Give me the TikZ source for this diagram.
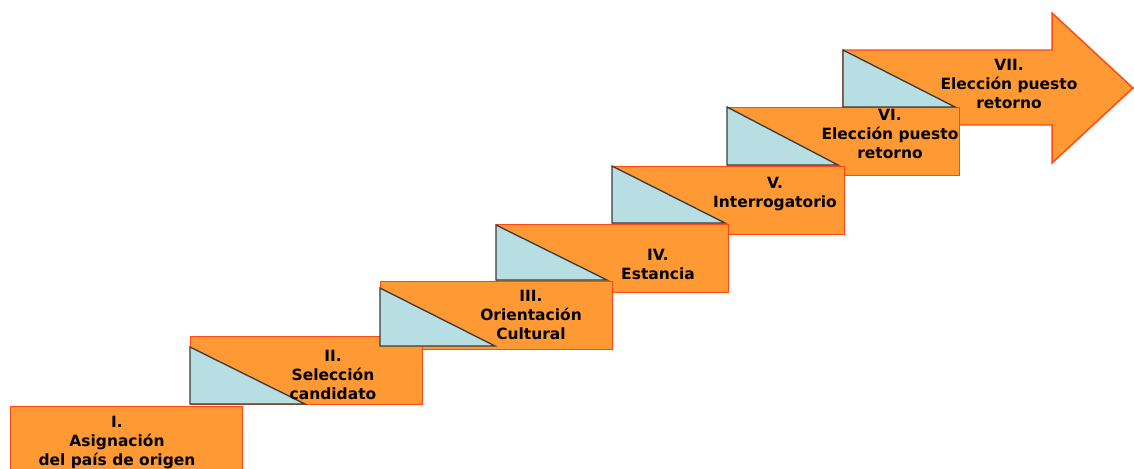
\documentclass[tikz,border=0pt]{standalone}
\usepackage{fontspec}
\setsansfont{DejaVu Sans}
\usetikzlibrary{positioning}

\definecolor{steporange}{RGB}{255,153,51}
\definecolor{stepedge}{RGB}{255,72,20}
\definecolor{riserblue}{RGB}{183,223,227}
\definecolor{riseredge}{RGB}{60,60,60}

\begin{document}
\begin{tikzpicture}[
    x=0.75pt, y=-0.75pt,
    % Define styles
    stepbox/.style={rectangle, draw=stepedge, fill=steporange, line width=1.1pt, minimum width=174pt, minimum height=51pt, anchor=north west, inner sep=0pt},
    riser/.style={draw=riseredge, fill=riserblue, line width=1pt, line join=miter},
    steplabel/.style={font=\sffamily\bfseries\fontsize{11.6}{14.25}\selectfont, align=center, inner sep=0pt}
]

\useasboundingbox (0,0) rectangle (1134,468);
\clip (0,0) rectangle (1134,468);

% Final step (arrow)
\coordinate (tip) at (1133,88);
\draw[stepedge, fill=steporange, line width=1.1pt] (843,50) -- (1052,50) -- (1052,13) -- (tip) -- (1052,163) -- (1052,125) -- (843,125) -- cycle;

% Steps, top to bottom
\node[stepbox] (box6) at (727,107) {};
\node[stepbox] (box5) at (612,166) {};
\node[stepbox] (box4) at (496,224) {};
\node[stepbox] (box3) at (380,281) {};
\node[stepbox] (box2) at (190,336) {};
\node[stepbox] (box1) at (10,406) {};

% Risers
\draw[riser] (843,50) -- (843,107) -- (955,107) -- cycle;
\draw[riser] (727,107) -- (727,165) -- (838,165) -- cycle;
\draw[riser] (612,166) -- (612,223) -- (725,223) -- cycle;
\draw[riser] (496,225) -- (496,280) -- (607,280) -- cycle;
\draw[riser] (380,288) -- (380,346) -- (495,346) -- cycle;
\draw[riser] (190,347) -- (190,404) -- (305,404) -- cycle;

% Labels
\node[steplabel] (lab1) at (117,443) {I.\\Asignación\\del país de origen};
\node[steplabel] (lab2) at (333,375) {II.\\Selección\\candidato};
\node[steplabel] (lab3) at (531,315) {III.\\Orientación\\Cultural};
\node[steplabel] (lab4) at (658,264) {IV.\\Estancia};
\node[steplabel] (lab5) at (775,194) {V.\\Interrogatorio};
\node[steplabel] (lab6) at (890,134) {VI.\\Elección puesto\\retorno};
\node[steplabel] (lab7) at (1009,84) {VII.\\Elección puesto\\retorno};

\end{tikzpicture}
\end{document}
